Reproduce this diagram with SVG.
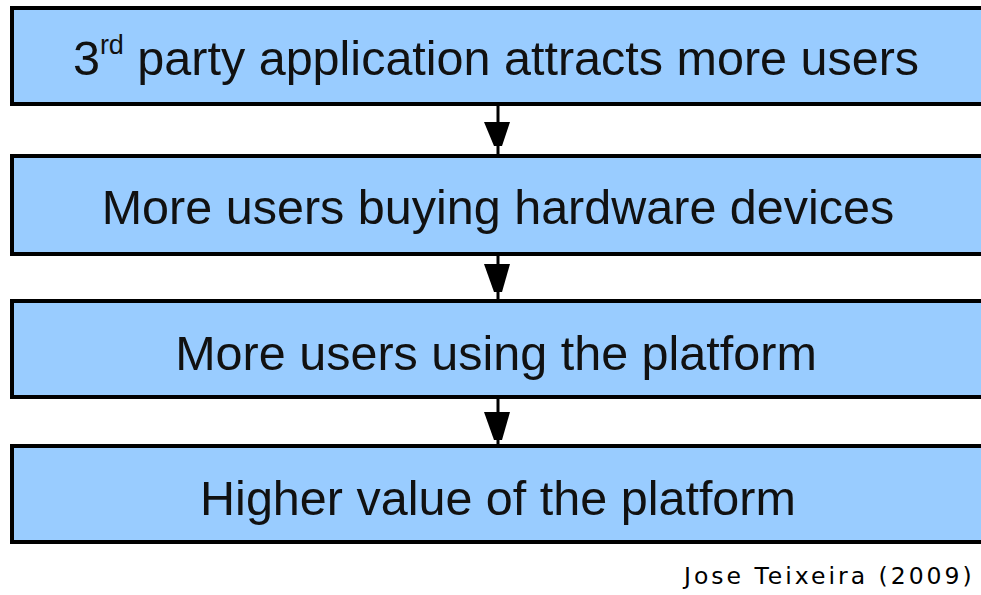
<svg xmlns="http://www.w3.org/2000/svg" width="981" height="595" viewBox="0 0 981 595">
<style>
.box{fill:#99ccff;stroke:#000;stroke-width:4}
.lbl{font-family:"Liberation Sans",Arial,sans-serif;font-size:48.5px;fill:#111;text-anchor:middle}
.sup{font-size:27px}
.conn line{stroke:#000;stroke-width:3}
.conn polygon{fill:#000}
.credit{font-family:"DejaVu Sans",Verdana,sans-serif;font-size:23.5px;fill:#000;letter-spacing:3px}
</style>
<rect width="981" height="595" fill="#fff"/>
<g id="connectors" class="conn">
<line x1="498" y1="106" x2="498" y2="154"/>
<polygon points="484,122 510,122 502,146 494,146"/>
<line x1="498" y1="256" x2="498" y2="299"/>
<polygon points="484,264 510,264 502,292 494,292"/>
<line x1="498" y1="399" x2="498" y2="444"/>
<polygon points="484,412 510,412 502,440 494,440"/>
</g>
<g id="node1">
<rect class="box" x="12" y="8" width="980" height="96"/>
<text class="lbl" x="496" y="75">3<tspan class="sup" dy="-21">rd</tspan><tspan dy="21"> party application attracts more users</tspan></text>
</g>
<g id="node2">
<rect class="box" x="12" y="156" width="980" height="98"/>
<text class="lbl" x="498" y="224">More users buying hardware devices</text>
</g>
<g id="node3">
<rect class="box" x="12" y="301" width="980" height="96"/>
<text class="lbl" x="496" y="370">More users using the platform</text>
</g>
<g id="node4">
<rect class="box" x="12" y="446" width="980" height="96"/>
<text class="lbl" x="498" y="515">Higher value of the platform</text>
</g>
<text class="credit" x="684" y="584">Jose Teixeira (2009)</text>
</svg>
